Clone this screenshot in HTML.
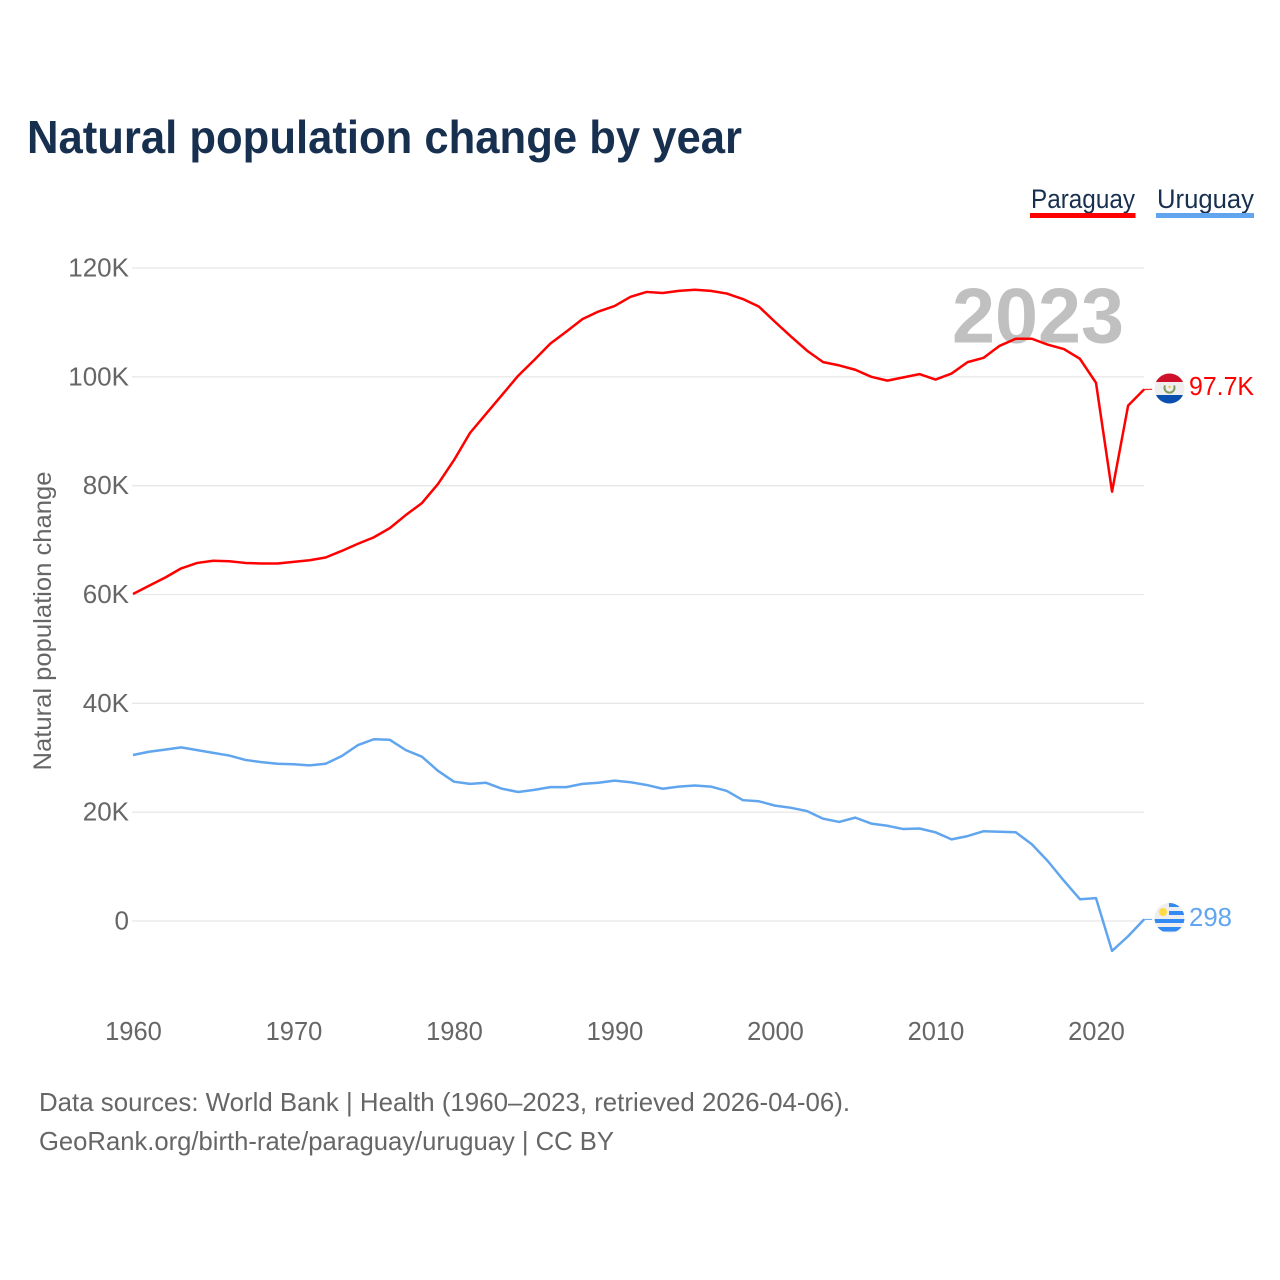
<!DOCTYPE html>
<html lang="en">
<head>
<meta charset="utf-8">
<title>Natural population change by year</title>
<style>
html,body{margin:0;padding:0;background:#fff;}
svg{display:block;}
text{font-family:"Liberation Sans",sans-serif;}
</style>
</head>
<body>
<svg id="chart" xmlns="http://www.w3.org/2000/svg" width="1280" height="1280" viewBox="0 0 1280 1280">
  <defs>
    <clipPath id="flag-clip-py"><circle cx="1169.5" cy="388.5" r="15"/></clipPath>
    <clipPath id="flag-clip-uy"><circle cx="1169.5" cy="918" r="15"/></clipPath>
  </defs>
  <rect x="0" y="0" width="1280" height="1280" fill="#ffffff"/>
  <text x="27" y="153" font-size="46" font-weight="700" fill="#18304f" textLength="715" lengthAdjust="spacingAndGlyphs">Natural population change by year</text>

  <g>
    <text x="1031" y="208" font-size="27" fill="#18304f" textLength="104" lengthAdjust="spacingAndGlyphs">Paraguay</text>
    <rect x="1030" y="213" width="105.500" height="5" fill="#ff0000"/>
  </g>
  <g>
    <text x="1157" y="208" font-size="27" fill="#18304f" textLength="97" lengthAdjust="spacingAndGlyphs">Uruguay</text>
    <rect x="1156" y="213" width="98" height="5" fill="#60a5ee"/>
  </g>

  <g id="grid"></g>
  <g id="y-ticks"></g>
  <g id="x-ticks"></g>
  <text transform="translate(51,621) rotate(-90)" text-anchor="middle" font-size="25" fill="#666666" textLength="299" lengthAdjust="spacingAndGlyphs">Natural population change</text>

  <text x="952" y="342.500" font-size="78" font-weight="700" fill="#c0c0c0" textLength="172" lengthAdjust="spacingAndGlyphs">2023</text>

  <g id="series"></g>

  <g clip-path="url(#flag-clip-py)">
    <rect x="1154" y="373" width="31" height="31" fill="#eeeeee"/>
    <rect x="1154" y="373" width="31" height="9" fill="#d0102a"/>
    <rect x="1154" y="395" width="31" height="9" fill="#0a4fb0"/>
    <path d="M1165 385.500 a5 5 0 1 0 9 0" fill="none" stroke="#7d9a5c" stroke-width="2"/>
    <circle cx="1169.500" cy="387" r="1.200" fill="#f5c842"/>
  </g>
  <g clip-path="url(#flag-clip-uy)">
    <rect x="1154" y="903" width="31" height="31" fill="#eeeeee"/>
    <rect x="1169" y="903" width="16" height="4" fill="#338af3"/>
    <rect x="1169" y="911" width="16" height="4" fill="#338af3"/>
    <rect x="1154" y="919" width="31" height="4" fill="#338af3"/>
    <rect x="1154" y="927" width="31" height="4.500" fill="#338af3"/>
    <circle cx="1163" cy="912" r="4" fill="#ffda44"/>
  </g>

  <text id="end-label-paraguay" x="1189" y="395" font-size="26" fill="#ff0000" textLength="65" lengthAdjust="spacingAndGlyphs"></text>
  <text id="end-label-uruguay" x="1189" y="926" font-size="26" fill="#60a5ee" textLength="43" lengthAdjust="spacingAndGlyphs"></text>

  <text x="39" y="1111" font-size="26" fill="#666666" textLength="811" lengthAdjust="spacingAndGlyphs">Data sources: World Bank | Health (1960–2023, retrieved 2026-04-06).</text>
  <text x="39" y="1150" font-size="26" fill="#666666" textLength="575" lengthAdjust="spacingAndGlyphs">GeoRank.org/birth-rate/paraguay/uruguay | CC BY</text>
</svg>
<script>
const firstYear = 1960;
const xTickYears = [1960, 1970, 1980, 1990, 2000, 2010, 2020];
const yTickValues = [0, 20, 40, 60, 80, 100, 120];
const yTickLabels = ['0', '20K', '40K', '60K', '80K', '100K', '120K'];
const paraguayValues = [
  60.1, 61.6, 63.1, 64.8, 65.8, 66.2, 66.1, 65.8, 65.7, 65.7,
  66.0, 66.3, 66.8, 68.0, 69.3, 70.5, 72.2, 74.6, 76.8, 80.3,
  84.7, 89.7, 93.2, 96.7, 100.2, 103.1, 106.1, 108.3, 110.6, 112.0,
  113.0, 114.7, 115.6, 115.4, 115.8, 116.0, 115.8, 115.3, 114.3, 112.9,
  110.1, 107.4, 104.8, 102.7, 102.1, 101.3, 100.0, 99.3, 99.9, 100.5,
  99.5, 100.6, 102.7, 103.5, 105.7, 107.0, 107.0, 105.9, 105.1, 103.3,
  98.9, 78.9, 94.7, 97.7
];
const uruguayValues = [
  30.5, 31.1, 31.5, 31.9, 31.4, 30.9, 30.4, 29.6, 29.2, 28.9,
  28.8, 28.6, 28.9, 30.3, 32.3, 33.4, 33.3, 31.4, 30.2, 27.6,
  25.6, 25.2, 25.4, 24.3, 23.7, 24.1, 24.6, 24.6, 25.2, 25.4,
  25.8, 25.5, 25.0, 24.3, 24.7, 24.9, 24.7, 23.9, 22.2, 22.0,
  21.2, 20.8, 20.2, 18.8, 18.2, 19.0, 17.9, 17.5, 16.9, 17.0,
  16.3, 15.0, 15.6, 16.5, 16.4, 16.3, 14.1, 11.0, 7.4, 4.0,
  4.2, -5.5, -2.8, 0.298
];
const paraguayEndLabel = '97.7K';
const uruguayEndLabel = '298';

const SVG_NS = 'http://www.w3.org/2000/svg';
function xScale(year) { return 133 + (year - 1960) * 16.05; }
function yScale(value) { return 921 - value * 5.4417; }

const gridGroup = document.getElementById('grid');
const yTickGroup = document.getElementById('y-ticks');
const xTickGroup = document.getElementById('x-ticks');
const seriesGroup = document.getElementById('series');

yTickValues.forEach(function (value, i) {
  const line = document.createElementNS(SVG_NS, 'line');
  
  
  line.setAttribute('x1', 132);
  line.setAttribute('x2', 1144);
  line.setAttribute('y1', yScale(value));
  line.setAttribute('y2', yScale(value));
  line.setAttribute('stroke', '#e8e8e8');
  line.setAttribute('stroke-width', 1.3);
  gridGroup.appendChild(line);

  const label = document.createElementNS(SVG_NS, 'text');
  
  
  label.setAttribute('x', 129);
  label.setAttribute('y', yScale(value) + 8.5);
  label.setAttribute('text-anchor', 'end');
  label.setAttribute('font-size', 26);
  label.setAttribute('fill', '#666666');
  label.textContent = yTickLabels[i];
  yTickGroup.appendChild(label);
});

xTickYears.forEach(function (year) {
  const label = document.createElementNS(SVG_NS, 'text');
  
  
  label.setAttribute('x', xScale(year) + 0.5);
  label.setAttribute('y', 1040);
  label.setAttribute('text-anchor', 'middle');
  label.setAttribute('font-size', 25.5);
  label.setAttribute('fill', '#666666');
  label.textContent = String(year);
  xTickGroup.appendChild(label);
});

function buildPoints(values) {
  return values.map(function (value, i) {
    return xScale(firstYear + i).toFixed(2) + ',' + yScale(value).toFixed(2);
  }).join(' ');
}

function drawConnector(values, color) {
  const last = values[values.length - 1];
  const lastX = xScale(firstYear + values.length - 1);
  const connector = document.createElementNS(SVG_NS, 'line');
  
  
  connector.setAttribute('x1', lastX);
  connector.setAttribute('x2', lastX + 8);
  connector.setAttribute('y1', yScale(last));
  connector.setAttribute('y2', yScale(last));
  connector.setAttribute('stroke', color);
  connector.setAttribute('stroke-width', 1);
  seriesGroup.appendChild(connector);
}

const uruguayLine = document.createElementNS(SVG_NS, 'polyline');


uruguayLine.setAttribute('points', buildPoints(uruguayValues));
uruguayLine.setAttribute('fill', 'none');
uruguayLine.setAttribute('stroke', '#60a5ee');
uruguayLine.setAttribute('stroke-width', 2.5);
uruguayLine.setAttribute('stroke-linejoin', 'round');
seriesGroup.appendChild(uruguayLine);
drawConnector(uruguayValues, '#60a5ee');

const paraguayLine = document.createElementNS(SVG_NS, 'polyline');


paraguayLine.setAttribute('points', buildPoints(paraguayValues));
paraguayLine.setAttribute('fill', 'none');
paraguayLine.setAttribute('stroke', '#ff0000');
paraguayLine.setAttribute('stroke-width', 2.5);
paraguayLine.setAttribute('stroke-linejoin', 'round');
seriesGroup.appendChild(paraguayLine);
drawConnector(paraguayValues, '#ff0000');

document.getElementById('end-label-paraguay').textContent = paraguayEndLabel;
document.getElementById('end-label-uruguay').textContent = uruguayEndLabel;
</script>
</body>
</html>
